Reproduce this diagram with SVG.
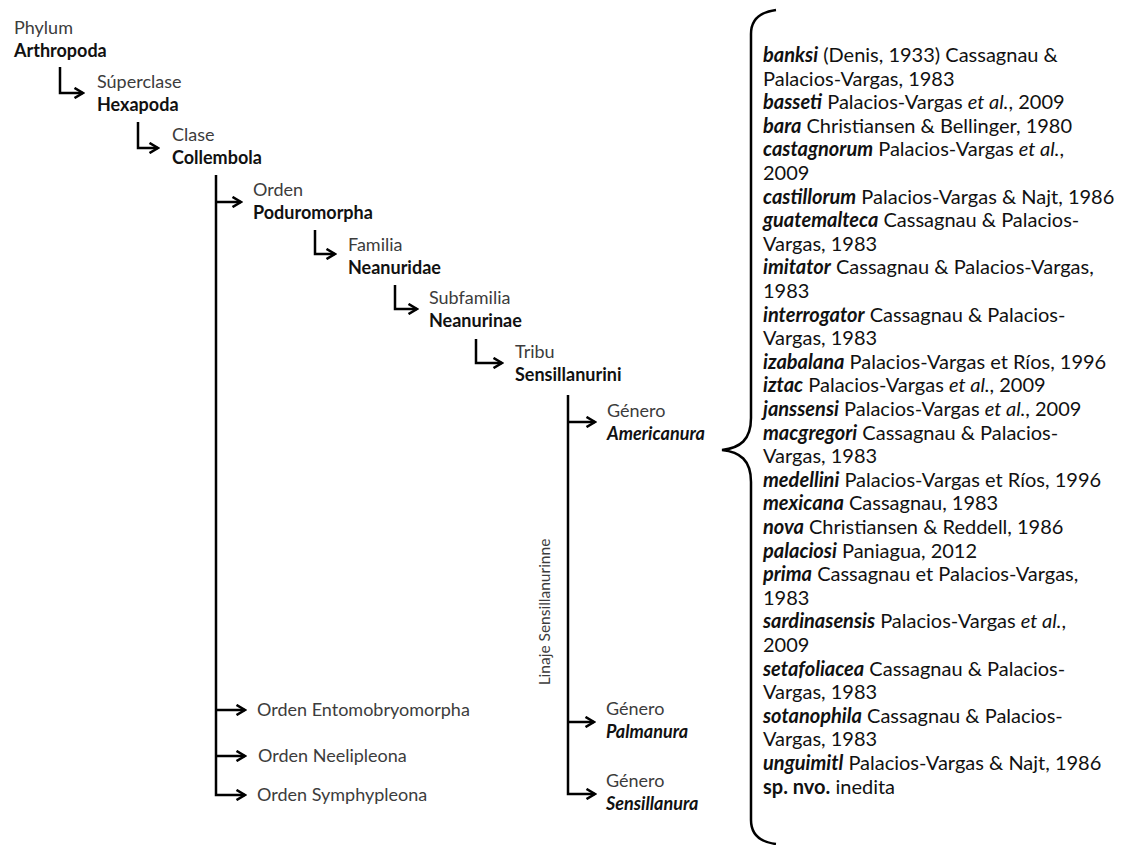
<svg xmlns="http://www.w3.org/2000/svg" width="1130" height="845" viewBox="0 0 1130 845">
<defs>
<marker id="arr" viewBox="0 0 12 12" refX="10.5" refY="6" markerWidth="12" markerHeight="12" markerUnits="userSpaceOnUse" orient="auto">
<path d="M2,1 L10.5,6 L2,11" fill="none" stroke="#000" stroke-width="2.6" stroke-linejoin="miter"/>
</marker>
</defs>
<style>
text{font-family:Lato,"Liberation Sans",sans-serif;font-size:18px}
.rank{fill:#3c3c3c}
.name{fill:#111;font-weight:bold}
.gen{fill:#111;font-weight:bold;font-style:italic}
.list{fill:#111;font-size:20px}
.bi{font-weight:bold;font-style:italic}
.i{font-style:italic}
.b{font-weight:bold}
.c{fill:none;stroke:#000;stroke-width:2.5}
.a{marker-end:url(#arr)}
</style>
<rect width="1130" height="845" fill="#fff"/>
<g id="connectors">
<path class="c a" d="M60,67 V93 H83"/>
<path class="c a" d="M138,122 V148 H158"/>
<path class="c a" d="M216,175 V795 H245"/>
<path class="c a" d="M216,202 H241"/>
<path class="c a" d="M216,710 H245"/>
<path class="c a" d="M216,756 H245"/>
<path class="c a" d="M315,230 V254 H335"/>
<path class="c a" d="M395,285 V309 H417"/>
<path class="c a" d="M476,339 V363 H502"/>
<path class="c a" d="M568,395 V794 H595"/>
<path class="c a" d="M568,422 H595"/>
<path class="c a" d="M568,722 H594"/>
</g>
<g id="n-arthropoda"><text class="rank" x="14" y="34">Phylum</text><text class="name" x="14" y="57">Arthropoda</text></g>
<g id="n-hexapoda"><text class="rank" x="97" y="88">Súperclase</text><text class="name" x="97" y="111">Hexapoda</text></g>
<g id="n-collembola"><text class="rank" x="172" y="141">Clase</text><text class="name" x="172" y="164">Collembola</text></g>
<g id="n-poduromorpha"><text class="rank" x="253" y="196">Orden</text><text class="name" x="253" y="219">Poduromorpha</text></g>
<g id="n-neanuridae"><text class="rank" x="348" y="251">Familia</text><text class="name" x="348" y="274">Neanuridae</text></g>
<g id="n-neanurinae"><text class="rank" x="429" y="304">Subfamilia</text><text class="name" x="429" y="327">Neanurinae</text></g>
<g id="n-sensillanurini"><text class="rank" x="515" y="358">Tribu</text><text class="name" x="515" y="381">Sensillanurini</text></g>
<g id="n-americanura"><text class="rank" x="607" y="417">Género</text><text class="gen" x="607" y="440">Americanura</text></g>
<g id="n-palmanura"><text class="rank" x="606" y="715">Género</text><text class="gen" x="606" y="738">Palmanura</text></g>
<g id="n-sensillanura"><text class="rank" x="606" y="787">Género</text><text class="gen" x="606" y="810">Sensillanura</text></g>
<g id="n-entomobryomorpha"><text class="rank" x="257" y="716">Orden Entomobryomorpha</text></g>
<g id="n-neelipleona"><text class="rank" x="258" y="762">Orden Neelipleona</text></g>
<g id="n-symphypleona"><text class="rank" x="257" y="801">Orden Symphypleona</text></g>
<g id="lineage"><text class="rank" text-anchor="middle" transform="translate(550,612) rotate(-90)" style="font-size:15.5px">Linaje Sensillanurinne</text></g>
<g id="brace"><path class="c" d="M776,10 C760,12 751,20 751,34 V418 C751,440 740,448 722,450 C740,452 751,460 751,482 V820 C751,834 760,842 776,844"/></g>
<g id="species-list">
<text class="list" x="763" y="62"><tspan class="bi">banksi</tspan> (Denis, 1933) Cassagnau &amp;</text>
<text class="list" x="763" y="85.6">Palacios-Vargas, 1983</text>
<text class="list" x="763" y="109.2"><tspan class="bi">basseti</tspan> Palacios-Vargas <tspan class="i">et al.</tspan>, 2009</text>
<text class="list" x="763" y="132.8"><tspan class="bi">bara</tspan> Christiansen &amp; Bellinger, 1980</text>
<text class="list" x="763" y="156.4"><tspan class="bi">castagnorum</tspan> Palacios-Vargas <tspan class="i">et al.</tspan>,</text>
<text class="list" x="763" y="180">2009</text>
<text class="list" x="763" y="203.6"><tspan class="bi">castillorum</tspan> Palacios-Vargas &amp; Najt, 1986</text>
<text class="list" x="763" y="227.2"><tspan class="bi">guatemalteca</tspan> Cassagnau &amp; Palacios-</text>
<text class="list" x="763" y="250.8">Vargas, 1983</text>
<text class="list" x="763" y="274.4"><tspan class="bi">imitator</tspan> Cassagnau &amp; Palacios-Vargas,</text>
<text class="list" x="763" y="298">1983</text>
<text class="list" x="763" y="321.6"><tspan class="bi">interrogator</tspan> Cassagnau &amp; Palacios-</text>
<text class="list" x="763" y="345.2">Vargas, 1983</text>
<text class="list" x="763" y="368.8"><tspan class="bi">izabalana</tspan> Palacios-Vargas et Ríos, 1996</text>
<text class="list" x="763" y="392.4"><tspan class="bi">iztac</tspan> Palacios-Vargas <tspan class="i">et al.</tspan>, 2009</text>
<text class="list" x="763" y="416"><tspan class="bi">janssensi</tspan> Palacios-Vargas <tspan class="i">et al.</tspan>, 2009</text>
<text class="list" x="763" y="439.6"><tspan class="bi">macgregori</tspan> Cassagnau &amp; Palacios-</text>
<text class="list" x="763" y="463.2">Vargas, 1983</text>
<text class="list" x="763" y="486.8"><tspan class="bi">medellini</tspan> Palacios-Vargas et Ríos, 1996</text>
<text class="list" x="763" y="510.4"><tspan class="bi">mexicana</tspan> Cassagnau, 1983</text>
<text class="list" x="763" y="534"><tspan class="bi">nova</tspan> Christiansen &amp; Reddell, 1986</text>
<text class="list" x="763" y="557.6"><tspan class="bi">palaciosi</tspan> Paniagua, 2012</text>
<text class="list" x="763" y="581.2"><tspan class="bi">prima</tspan> Cassagnau et Palacios-Vargas,</text>
<text class="list" x="763" y="604.8">1983</text>
<text class="list" x="763" y="628.4"><tspan class="bi">sardinasensis</tspan> Palacios-Vargas <tspan class="i">et al.</tspan>,</text>
<text class="list" x="763" y="652">2009</text>
<text class="list" x="763" y="675.6"><tspan class="bi">setafoliacea</tspan> Cassagnau &amp; Palacios-</text>
<text class="list" x="763" y="699.2">Vargas, 1983</text>
<text class="list" x="763" y="722.8"><tspan class="bi">sotanophila</tspan> Cassagnau &amp; Palacios-</text>
<text class="list" x="763" y="746.4">Vargas, 1983</text>
<text class="list" x="763" y="770"><tspan class="bi">unguimitl</tspan> Palacios-Vargas &amp; Najt, 1986</text>
<text class="list" x="763" y="793.6"><tspan class="b">sp. nvo.</tspan> inedita</text>
</g>
</svg>
